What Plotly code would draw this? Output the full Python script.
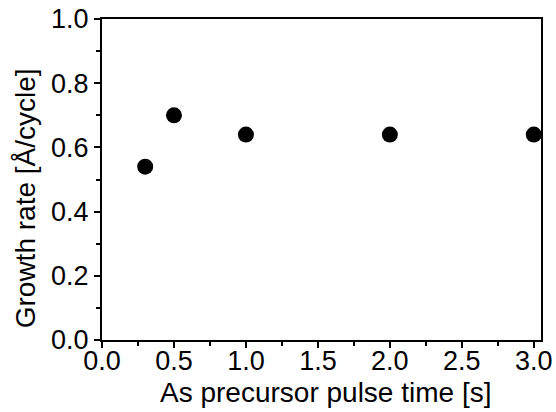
import plotly.graph_objects as go

pulse_time = [0.3, 0.5, 1.0, 2.0, 3.0]
growth_rate = [0.54, 0.70, 0.64, 0.64, 0.64]

x_ticks = [0.0, 0.5, 1.0, 1.5, 2.0, 2.5, 3.0]
y_ticks = [0.0, 0.2, 0.4, 0.6, 0.8, 1.0]

fig = go.Figure(go.Scatter(
    x=pulse_time, y=growth_rate, mode="markers",
    marker=dict(color="black", size=16, line=dict(width=0)),
    cliponaxis=False,
))

tick_font = dict(family="Liberation Sans, Arial", size=27, color="black")
title_font = dict(family="Liberation Sans, Arial", size=28, color="black")

fig.update_layout(
    width=556, height=412,
    margin=dict(l=102, r=15, t=19, b=72, autoexpand=False),
    paper_bgcolor="white", plot_bgcolor="white",
    showlegend=False,
    font=tick_font,
)
fig.update_xaxes(
    range=[0, 3.05], tickvals=x_ticks, ticktext=[f"{v:.1f}" for v in x_ticks],
    ticks="outside", ticklen=6, tickwidth=2, tickcolor="black",
    showline=True, linewidth=2, linecolor="black", mirror=True,
    showgrid=False, zeroline=False, automargin=False,
    ticklabelstandoff=-10,
    minor=dict(ticks="outside", ticklen=4, tickwidth=2, tickcolor="black", dtick=0.25, tick0=0, showgrid=False),
    tickfont=tick_font,
)
fig.update_yaxes(
    range=[0, 1.0], tickvals=y_ticks, ticktext=[f"{v:.1f}" for v in y_ticks],
    ticks="outside", ticklen=6, tickwidth=2, tickcolor="black",
    showline=True, linewidth=2, linecolor="black", mirror=True,
    showgrid=False, zeroline=False, automargin=False,
    minor=dict(ticks="outside", ticklen=4, tickwidth=2, tickcolor="black", dtick=0.1, tick0=0, showgrid=False),
    tickfont=tick_font,
)
fig.add_annotation(
    text="Growth rate [Å/cycle]", textangle=-90, font=title_font,
    xref="paper", yref="paper", x=-0.175, y=0.442,
    xanchor="center", yanchor="middle", showarrow=False,
)
fig.add_annotation(
    text="As precursor pulse time [s]", font=title_font,
    xref="paper", yref="paper", x=0.51, y=-0.164,
    xanchor="center", yanchor="middle", showarrow=False,
)

fig.write_html("out.html")
